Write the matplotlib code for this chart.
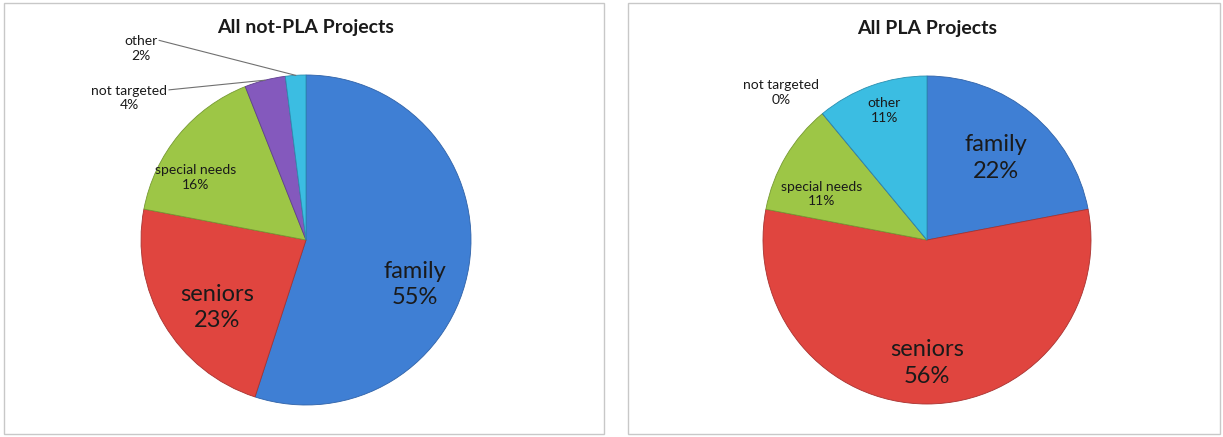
import numpy as np
import matplotlib
matplotlib.use('Agg')
import matplotlib.pyplot as plt
from matplotlib.patches import Rectangle

matplotlib.rcParams['font.family'] = ['Lato', 'DejaVu Sans']

categories = ['family', 'seniors', 'special needs', 'not targeted', 'other']
not_pla = [55, 23, 16, 4, 2]
pla = [22, 56, 11, 0, 11]
titles = ['All not-PLA Projects', 'All PLA Projects']

colors = ['#3f7fd4', '#e0453f', '#9dc646', '#8459bd', '#3bbde2']
edges = ['#2f62a8', '#a83230', '#769a32', '#5f3f8e', '#2a8fb0']

W, H = 1223, 437
fig = plt.figure(figsize=(W / 100, H / 100), dpi=100)

# panel frames (pixels: x0, y0 top, x1, y1 bottom)
for x0, x1 in [(4, 604), (628, 1220)]:
    fig.patches.append(Rectangle((x0 / W, 1 - 434 / H), (x1 - x0) / W, 431 / H,
                                 transform=fig.transFigure, fill=False,
                                 edgecolor='#c8c8c8', linewidth=1.0))


def pie_axes(cx, cy, r):
    ax = fig.add_axes([(cx - r) / W, 1 - (cy + r) / H, 2 * r / W, 2 * r / H])
    ax.axis('off')
    return ax


def pct(v):
    return '%d%%' % v


big = dict(fontsize=17, color='#1a1a1a', ha='center', va='center', linespacing=1.3)
small = dict(fontsize=10, color='#1a1a1a', ha='center', va='center', linespacing=1.25)

# left chart
ax = pie_axes(306, 240, 165)
wedges, _ = ax.pie(not_pla, colors=colors, startangle=90, counterclock=False,
                   radius=1.0, wedgeprops=dict(linewidth=0.6))
for w, e in zip(wedges, edges):
    w.set_edgecolor(e)
ax.set_xlim(-1, 1)
ax.set_ylim(-1, 1)
ax.text(0.66, -0.27, '%s\n%s' % (categories[0], pct(not_pla[0])), **big)
ax.text(-0.54, -0.41, '%s\n%s' % (categories[1], pct(not_pla[1])), **big)
ax.text(-0.67, 0.38, '%s\n%s' % (categories[2], pct(not_pla[2])), **small)
# outside labels with leader lines
for i, (lx, ly, ex) in zip([3, 4], [(-1.07, 0.86, -0.83), (-1.0, 1.16, -0.89)]):
    w = wedges[i]
    mid = np.deg2rad((w.theta1 + w.theta2) / 2)
    ax.text(lx, ly, '%s\n%s' % (categories[i], pct(not_pla[i])), clip_on=False, **small)
    ax.plot([ex, np.cos(mid)], [ly + 0.05, np.sin(mid)], color='#707070',
            linewidth=0.8, clip_on=False)
ax.set_title(titles[0], fontsize=14, fontweight='bold', color='#1a1a1a', pad=0,
             y=1.0 + 42 / 330)

# right chart
ax2 = pie_axes(927, 240, 164)
wedges2, _ = ax2.pie(pla, colors=colors, startangle=90, counterclock=False,
                     radius=1.0, wedgeprops=dict(linewidth=0.6))
for w, e in zip(wedges2, edges):
    w.set_edgecolor(e)
ax2.set_xlim(-1, 1)
ax2.set_ylim(-1, 1)
ax2.text(0.42, 0.50, '%s\n%s' % (categories[0], pct(pla[0])), **big)
ax2.text(0.0, -0.75, '%s\n%s' % (categories[1], pct(pla[1])), **big)
ax2.text(-0.64, 0.28, '%s\n%s' % (categories[2], pct(pla[2])), **small)
ax2.text(-0.89, 0.90, '%s\n%s' % (categories[3], pct(pla[3])), clip_on=False, **small)
ax2.text(-0.26, 0.79, '%s\n%s' % (categories[4], pct(pla[4])), **small)
ax2.set_title(titles[1], fontsize=14, fontweight='bold', color='#1a1a1a', pad=0,
              y=1.0 + 42 / 328)

fig.savefig('out.png', dpi=100)
